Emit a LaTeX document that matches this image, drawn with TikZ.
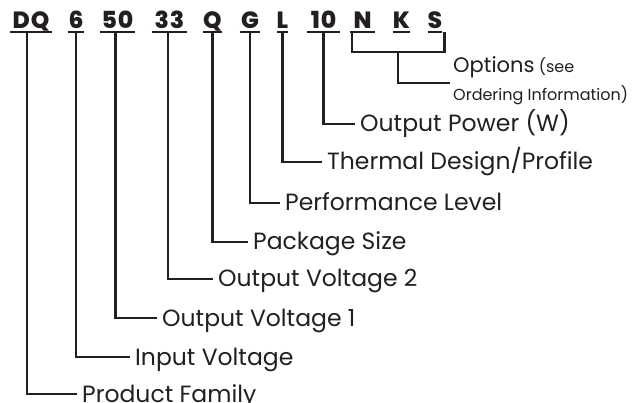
\documentclass[tikz,border=0pt]{standalone}
\usepackage{fontspec}
\setmainfont{Poppins}
\newfontfamily\codefont[LetterSpace=4]{Poppins ExtraBold}
\usetikzlibrary{calc}
\definecolor{ink}{HTML}{231F20}
\tikzset{
  code/.style={font=\fontsize{23.5}{24}\codefont,text=ink,inner xsep=0pt,inner ysep=0pt,
    text height=16pt,text depth=3.5pt,anchor=base},
  uline/.style={draw=ink,line width=1.8pt},
  link/.style={draw=ink,line width=2.4pt,line join=miter},
  lbl/.style={font=\fontsize{23.5}{28}\selectfont,text=ink,anchor=west,inner xsep=5pt,inner ysep=0pt,
    text height=16pt,text depth=0pt},
}
\begin{document}
\begin{tikzpicture}[x=1pt,y=-1pt]
\useasboundingbox (0,0) rectangle (634,403);
% part number groups
\node[code,minimum width=42pt] (dq) at (31,28.5) {DQ};
\node[code,minimum width=15pt] (six) at (76,28.5) {6};
\node[code,minimum width=35pt] (fifty) at (117.5,28.5) {50};
\node[code,minimum width=35pt] (thirty) at (169.5,28.5) {33};
\node[code,minimum width=19pt] (pkg) at (212.5,28.5) {Q};
\node[code,minimum width=20pt] (perf) at (250,28.5) {G};
\node[code,minimum width=11pt] (therm) at (282.5,28.5) {L};
\node[code,minimum width=33pt] (power) at (323.5,28.5) {10};
\node[code,minimum width=25pt] (optN) at (362.5,28.5) {N};
\node[code,minimum width=17pt] (optK) at (401.5,28.5) {K};
\node[code,minimum width=14pt] (optS) at (435,28.5) {S};
\foreach \g in {dq,six,fifty,thirty,pkg,perf,therm,power,optN,optK,optS}
  {\draw[uline] (\g.south west) -- (\g.south east);}
% labels
\node[lbl] (lpower) at (355,124) {Output Power (W)};
\node[lbl] (ltherm) at (322,162) {Thermal Design/Profile};
\node[lbl] (lperf) at (280,203) {Performance Level};
\node[lbl] (lpkg) at (248,242) {Package Size};
\node[lbl] (lov2) at (213,279) {Output Voltage 2};
\node[lbl] (lov1) at (157,318) {Output Voltage 1};
\node[lbl] (lin) at (130,357) {Input Voltage};
\node[lbl] (lfam) at (77,394) {Product Family};
\node[text=ink,anchor=west,align=left,inner sep=0pt,font=\fontsize{16}{28}\selectfont] (lopt) at (453,81)
  {{\fontsize{21}{28}\selectfont Options} (see\\
   Ordering Information)};
% connectors
\draw[link] ([xshift=-4pt]dq.south) |- (lfam.west);
\draw[link] (six.south) |- (lin.west);
\draw[link] ([xshift=-2pt]fifty.south) |- (lov1.west);
\draw[link] ([xshift=-1.5pt]thirty.south) |- (lov2.west);
\draw[link] (pkg.south) |- (lpkg.west);
\draw[link] (perf.south) |- (lperf.west);
\draw[link] (therm.south) |- (ltherm.west);
\draw[link] (power.south) |- (lpower.west);
\coordinate (brkA) at ([xshift=2pt]optN.south west);
\coordinate (brkB) at ([xshift=2pt]optS.south east);
\draw[link] (brkA) -- ++(0,20) coordinate (brkL) -- (brkL -| brkB) coordinate (brkR) -- (brkB);
\draw[link] ($(brkL)!0.5!(brkR)$) |- ([xshift=-3pt,yshift=-2pt]lopt.west);
\end{tikzpicture}
\end{document}
